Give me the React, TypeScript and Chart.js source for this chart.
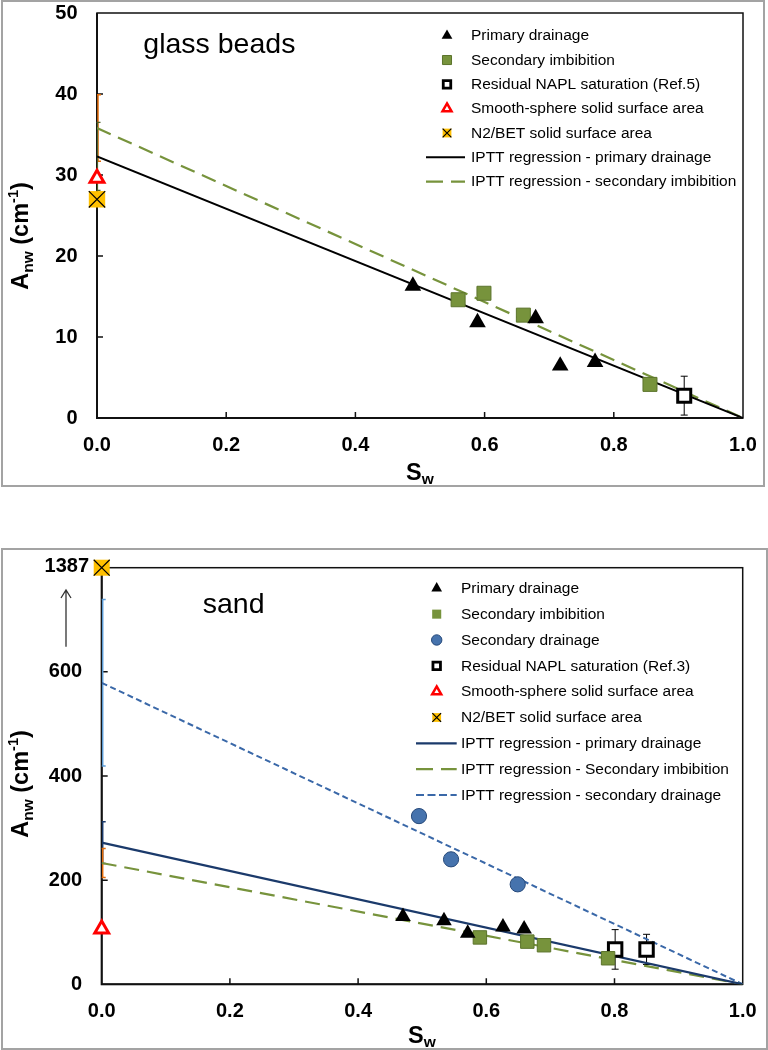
import React, { useEffect, useRef } from 'react';
import { Chart, registerables } from 'chart.js';
import { drawPoint } from 'chart.js/helpers';

Chart.register(...registerables);

const FONT = "'Liberation Sans', Arial, Helvetica, sans-serif";
Chart.defaults.font.family = FONT;

// ===================== Glass beads (top panel) =====================
const gbXTicks = [0, 0.2, 0.4, 0.6, 0.8, 1.0];
const gbYTicks = [0, 10, 20, 30, 40, 50];
const gbYMax = 50;
const gbPrimarySw = [0.489, 0.589, 0.679, 0.717, 0.771];
const gbPrimaryA = [16.3, 11.8, 12.3, 6.45, 6.9];
const gbSecImbSw = [0.559, 0.599, 0.66, 0.856];
const gbSecImbA = [14.6, 15.4, 12.7, 4.15];
const gbResidualSw = [0.909];
const gbResidualA = [2.76];
const gbResidualErr = [2.4];
const gbSmoothSw = [0];
const gbSmoothA = [29.6];
const gbBetSw = [0];
const gbBetA = [27.0];
const gbRegSw = [0, 1];
const gbRegPrimaryA = [32.3, 0];
const gbRegSecImbA = [35.8, 0];
const gbRegPrimaryErr = [4.2];
const gbRegSecImbErr = [4.1];

// ===================== Sand (bottom panel) =====================
const sdXTicks = [0, 0.2, 0.4, 0.6, 0.8, 1.0];
const sdYTicks = [0, 200, 400, 600, 800];
const sdYMax = 800;
const sdPrimarySw = [0.47, 0.534, 0.571, 0.626, 0.659];
const sdPrimaryA = [130, 122, 98, 110, 106];
const sdSecImbSw = [0.59, 0.664, 0.69, 0.79];
const sdSecImbA = [90, 82, 75, 50];
const sdSecDrnSw = [0.495, 0.545, 0.649];
const sdSecDrnA = [323, 240, 192];
const sdResidualSw = [0.801, 0.85];
const sdResidualA = [67, 67];
const sdResidualErr = [38, 29];
const sdSmoothSw = [0];
const sdSmoothA = [106];
const sdBetSw = [0];
const sdBetA = [1387];
const sdRegSw = [0, 1];
const sdRegPrimaryA = [272, 0];
const sdRegSecImbA = [233, 0];
const sdRegSecDrnA = [579, 0];
const sdRegPrimaryErr = [40];
const sdRegSecImbErr = [28];
const sdRegSecDrnErr = [160];

// ===================== styles =====================
type Marker = { style: string; r: number; fill: string; stroke: string; bw: number };
type LineSt = { color: string; width: number; dash: number[] };
type LegendEntry = { text: string; marker?: Marker; overlay?: Marker; line?: LineSt };
type ErrBar = { xs: number[]; ys: number[]; errs: number[]; color: string; width: number; capL: number; capR: number; dx: number };
type Run = { t: string; size: number; dy: number };

const GREEN = '#77933C';
const GREEN_EDGE = '#5C742C';
const BLUE = '#4673AD';
const BLUE_EDGE = '#26497A';
const NAVY = '#1B3A6B';
const ORANGE_BET = '#FFC000';

const mk = (style: string, r: number, fill: string, stroke: string, bw: number): Marker => ({ style, r, fill, stroke, bw });

function pts(xs: number[], ys: number[], cap = Infinity) {
  return xs.map((x, i) => ({ x, y: Math.min(ys[i], cap) }));
}

function markerDataset(label: string, xs: number[], ys: number[], m: Marker, order = 1, cap = Infinity) {
  return {
    type: 'scatter',
    label,
    data: pts(xs, ys, cap),
    showLine: false,
    pointStyle: m.style,
    pointRadius: m.r,
    pointHoverRadius: m.r,
    pointBackgroundColor: m.fill,
    pointBorderColor: m.stroke,
    pointBorderWidth: m.bw,
    pointHoverBorderWidth: m.bw,
    clip: false,
    order,
  };
}

function lineDataset(label: string, xs: number[], ys: number[], l: LineSt) {
  return {
    type: 'scatter',
    label,
    data: pts(xs, ys),
    showLine: true,
    pointRadius: 0,
    pointHoverRadius: 0,
    borderColor: l.color,
    borderWidth: l.width,
    borderDash: l.dash,
    backgroundColor: 'transparent',
    fill: false,
    order: 3,
  };
}

function drawMarker(ctx: CanvasRenderingContext2D, m: Marker, x: number, y: number) {
  ctx.save();
  ctx.setLineDash([]);
  ctx.fillStyle = m.fill;
  ctx.strokeStyle = m.stroke;
  ctx.lineWidth = m.bw;
  drawPoint(ctx, { pointStyle: m.style, radius: m.r, rotation: 0, borderWidth: m.bw } as any, x, y);
  ctx.restore();
}

function richWidth(ctx: CanvasRenderingContext2D, runs: Run[]) {
  let w = 0;
  for (const r of runs) {
    ctx.font = `bold ${r.size}px ${FONT}`;
    w += ctx.measureText(r.t).width;
  }
  return w;
}

function drawRich(ctx: CanvasRenderingContext2D, runs: Run[], x: number, y: number) {
  let cx = x;
  for (const r of runs) {
    ctx.font = `bold ${r.size}px ${FONT}`;
    ctx.fillText(r.t, cx, y + r.dy);
    cx += ctx.measureText(r.t).width;
  }
}

const Y_TITLE: Run[] = [
  { t: 'A', size: 23.5, dy: 0 },
  { t: 'nw', size: 15.5, dy: 5 },
  { t: ' (cm', size: 23.5, dy: 0 },
  { t: '-1', size: 14.5, dy: -10 },
  { t: ')', size: 23.5, dy: 0 },
];
const X_TITLE: Run[] = [
  { t: 'S', size: 23.5, dy: 0 },
  { t: 'w', size: 15.5, dy: 3.5 },
];

type PanelSpec = {
  H: number;
  area: { left: number; top: number; right: number; bottom: number };
  xTicks: number[];
  yTicks: number[];
  yMax: number;
  yTickLabel: (v: number) => string;
  datasets: any[];
  errorBars: ErrBar[];
  legend: { markerX: number; textX: number; lineX0: number; lineX1: number; y0: number; dy: number; entries: LegendEntry[] };
  label: { text: string; x: number; y: number; size: number };
  yTitle: { x: number; cy: number };
  xTitle: { x: number; y: number };
  extra?: (ctx: CanvasRenderingContext2D, chart: any) => void;
};

function decorPlugin(spec: PanelSpec) {
  return {
    id: 'decor',
    beforeDatasetsDraw(chart: any) {
      const ctx: CanvasRenderingContext2D = chart.ctx;
      const a = chart.chartArea;
      const sx = chart.scales.x;
      const sy = chart.scales.y;
      ctx.save();
      ctx.setLineDash([]);
      ctx.strokeStyle = '#111';
      ctx.lineWidth = 1.5;
      ctx.strokeRect(a.left, a.top, a.right - a.left, a.bottom - a.top);
      ctx.lineWidth = 2;
      ctx.beginPath();
      ctx.moveTo(a.left, a.top);
      ctx.lineTo(a.left, a.bottom);
      ctx.lineTo(a.right, a.bottom);
      ctx.stroke();
      ctx.lineWidth = 1.5;
      ctx.beginPath();
      for (const v of spec.xTicks) {
        if (v <= sx.min || v >= sx.max) continue;
        const p = sx.getPixelForValue(v);
        ctx.moveTo(p, a.bottom);
        ctx.lineTo(p, a.bottom - 6);
      }
      for (const v of spec.yTicks) {
        if (v <= sy.min || v >= sy.max) continue;
        const p = sy.getPixelForValue(v);
        ctx.moveTo(a.left, p);
        ctx.lineTo(a.left + 6, p);
      }
      ctx.stroke();
      for (const eb of spec.errorBars) {
        ctx.strokeStyle = eb.color;
        ctx.lineWidth = eb.width;
        ctx.beginPath();
        eb.xs.forEach((xv, i) => {
          const px = sx.getPixelForValue(xv) + eb.dx;
          const y1 = sy.getPixelForValue(eb.ys[i] + eb.errs[i]);
          const y2 = sy.getPixelForValue(eb.ys[i] - eb.errs[i]);
          ctx.moveTo(px, y1);
          ctx.lineTo(px, y2);
          ctx.moveTo(px - eb.capL, y1);
          ctx.lineTo(px + eb.capR, y1);
          ctx.moveTo(px - eb.capL, y2);
          ctx.lineTo(px + eb.capR, y2);
        });
        ctx.stroke();
      }
      ctx.restore();
    },
    afterDraw(chart: any) {
      const ctx: CanvasRenderingContext2D = chart.ctx;
      ctx.save();
      ctx.fillStyle = '#000';
      // legend
      const L = spec.legend;
      L.entries.forEach((e, i) => {
        const y = L.y0 + i * L.dy;
        if (e.marker) drawMarker(ctx, e.marker, L.markerX, y);
        if (e.overlay) drawMarker(ctx, e.overlay, L.markerX, y);
        if (e.line) {
          ctx.save();
          ctx.strokeStyle = e.line.color;
          ctx.lineWidth = e.line.width;
          ctx.setLineDash(e.line.dash.length ? [e.line.dash[0] + 2, e.line.dash[1]] : []);
          ctx.beginPath();
          ctx.moveTo(L.lineX0, y);
          ctx.lineTo(L.lineX1, y);
          ctx.stroke();
          ctx.restore();
        }
        ctx.fillStyle = '#000';
        ctx.font = `15.5px ${FONT}`;
        ctx.textAlign = 'left';
        ctx.textBaseline = 'middle';
        ctx.fillText(e.text, L.textX, y + 0.5);
      });
      // panel label
      ctx.textBaseline = 'alphabetic';
      ctx.textAlign = 'left';
      ctx.font = `${spec.label.size}px ${FONT}`;
      ctx.fillText(spec.label.text, spec.label.x, spec.label.y);
      // axis titles
      drawRich(ctx, X_TITLE, spec.xTitle.x, spec.xTitle.y);
      ctx.save();
      ctx.translate(spec.yTitle.x, spec.yTitle.cy);
      ctx.rotate(-Math.PI / 2);
      const w = richWidth(ctx, Y_TITLE);
      drawRich(ctx, Y_TITLE, -w / 2, 0);
      ctx.restore();
      if (spec.extra) spec.extra(ctx, chart);
      ctx.restore();
    },
  };
}

function buildConfig(spec: PanelSpec): any {
  const W = 768;
  const XH = 40;
  const tickFont = { family: FONT, size: 20, weight: 'bold' as const };
  const hiddenGrid = (len: number) => ({
    display: true,
    drawOnChartArea: false,
    drawTicks: true,
    tickLength: len,
    color: 'rgba(0,0,0,0)',
  });
  return {
    type: 'scatter',
    data: { datasets: spec.datasets },
    plugins: [decorPlugin(spec)],
    options: {
      animation: false,
      responsive: false,
      maintainAspectRatio: false,
      events: [],
      layout: {
        padding: {
          left: 0,
          top: spec.area.top,
          right: W - spec.area.right,
          bottom: spec.H - spec.area.bottom - XH,
        },
      },
      plugins: { legend: { display: false }, tooltip: { enabled: false }, title: { display: false } },
      scales: {
        x: {
          type: 'linear',
          min: 0,
          max: 1,
          afterBuildTicks: (s: any) => {
            s.ticks = spec.xTicks.map((v) => ({ value: v }));
          },
          afterFit: (s: any) => {
            s.height = XH;
          },
          grid: hiddenGrid(15),
          border: { display: false },
          ticks: {
            font: tickFont,
            color: '#000',
            padding: 0,
            autoSkip: false,
            maxRotation: 0,
            callback: (v: any) => Number(v).toFixed(1),
          },
        },
        y: {
          type: 'linear',
          min: 0,
          max: spec.yMax,
          afterBuildTicks: (s: any) => {
            s.ticks = spec.yTicks.map((v) => ({ value: v }));
          },
          afterFit: (s: any) => {
            s.width = spec.area.left;
          },
          grid: hiddenGrid(19.5),
          border: { display: false },
          ticks: {
            font: tickFont,
            color: '#000',
            padding: 0,
            autoSkip: false,
            callback: (v: any) => spec.yTickLabel(Number(v)),
          },
        },
      },
    },
  };
}

// ---------- glass beads spec ----------
const gbM = {
  pri: mk('triangle', 9.6, '#000', '#000', 0),
  sec: mk('rect', 9.9, GREEN, GREEN_EDGE, 1),
  res: mk('rect', 9.2, '#fff', '#000', 3),
  smooth: mk('triangle', 8, '#fff', '#FF0000', 3),
  bet: mk('rect', 11.6, ORANGE_BET, ORANGE_BET, 0),
  betX: mk('crossRot', 11.6, '#000', '#000', 1.2),
};
const legM = {
  pri: mk('triangle', 6.2, '#000', '#000', 0),
  sec: mk('rect', 6.4, GREEN, GREEN_EDGE, 1),
  drn: mk('circle', 5.2, BLUE, BLUE_EDGE, 1),
  res: mk('rect', 5.3, '#fff', '#000', 2.8),
  smooth: mk('triangle', 5.2, '#fff', '#FF0000', 2.5),
  bet: mk('rect', 6.2, ORANGE_BET, ORANGE_BET, 0),
  betX: mk('crossRot', 6.2, '#000', '#000', 1.2),
};
const gbLines = {
  pri: { color: '#000', width: 2, dash: [] as number[] },
  sec: { color: GREEN, width: 2.2, dash: [15, 8] },
};

const glassSpec: PanelSpec = {
  H: 488,
  area: { left: 97, top: 13, right: 743, bottom: 418 },
  xTicks: gbXTicks,
  yTicks: gbYTicks,
  yMax: gbYMax,
  yTickLabel: (v) => String(v),
  datasets: [
    markerDataset('Primary drainage', gbPrimarySw, gbPrimaryA, gbM.pri),
    markerDataset('Secondary imbibition', gbSecImbSw, gbSecImbA, gbM.sec),
    markerDataset('Residual NAPL saturation (Ref.5)', gbResidualSw, gbResidualA, gbM.res),
    markerDataset('Smooth-sphere solid surface area', gbSmoothSw, gbSmoothA, gbM.smooth),
    markerDataset('N2/BET solid surface area', gbBetSw, gbBetA, gbM.bet, 1),
    markerDataset('N2/BET solid surface area (x)', gbBetSw, gbBetA, gbM.betX, 0),
    lineDataset('IPTT regression - primary drainage', gbRegSw, gbRegPrimaryA, gbLines.pri),
    lineDataset('IPTT regression - secondary imbibition', gbRegSw, gbRegSecImbA, gbLines.sec),
  ],
  errorBars: [
    { xs: [0], ys: [gbRegSecImbA[0]], errs: gbRegSecImbErr, color: '#E46C0A', width: 1.5, capL: 1, capR: 3, dx: 1 },
    { xs: [0], ys: [gbRegPrimaryA[0]], errs: gbRegPrimaryErr, color: '#4F6228', width: 1.2, capL: 1, capR: 3, dx: 0.5 },
    { xs: gbResidualSw, ys: gbResidualA, errs: gbResidualErr, color: '#000', width: 1, capL: 3.5, capR: 3.5, dx: 0 },
  ],
  legend: {
    markerX: 447,
    textX: 471,
    lineX0: 426,
    lineX1: 465,
    y0: 35.7,
    dy: 24.33,
    entries: [
      { text: 'Primary drainage', marker: legM.pri },
      { text: 'Secondary imbibition', marker: legM.sec },
      { text: 'Residual NAPL saturation (Ref.5)', marker: legM.res },
      { text: 'Smooth-sphere solid surface area', marker: legM.smooth },
      { text: 'N2/BET solid surface area', marker: legM.bet, overlay: legM.betX },
      { text: 'IPTT regression - primary drainage', line: gbLines.pri },
      { text: 'IPTT regression - secondary imbibition', line: gbLines.sec },
    ],
  },
  label: { text: 'glass beads', x: 143.3, y: 53.3, size: 28.5 },
  yTitle: { x: 28.3, cy: 236 },
  xTitle: { x: 406, y: 480 },
};

// ---------- sand spec ----------
const sdM = {
  pri: mk('triangle', 9, '#000', '#000', 0),
  sec: mk('rect', 9.5, GREEN, GREEN_EDGE, 1),
  drn: mk('circle', 7.6, BLUE, BLUE_EDGE, 1),
  res: mk('rect', 9.5, '#fff', '#000', 3),
  smooth: mk('triangle', 8, '#fff', '#FF0000', 3),
  bet: mk('rect', 11.3, ORANGE_BET, ORANGE_BET, 0),
  betX: mk('crossRot', 11.3, '#000', '#000', 1.2),
};
const sdLines = {
  pri: { color: NAVY, width: 2.2, dash: [] as number[] },
  sec: { color: GREEN, width: 2.2, dash: [15, 8] },
  drn: { color: '#3A68A8', width: 2, dash: [6, 3.5] },
};

const SAND_TOP = 540;

const sandSpec: PanelSpec = {
  H: 510,
  area: { left: 101.7, top: 567.7 - SAND_TOP, right: 742.7, bottom: 984.3 - SAND_TOP },
  xTicks: sdXTicks,
  yTicks: sdYTicks,
  yMax: sdYMax,
  yTickLabel: (v) => (v >= sdYMax ? '' : String(v)),
  datasets: [
    markerDataset('Primary drainage', sdPrimarySw, sdPrimaryA, sdM.pri),
    markerDataset('Secondary imbibition', sdSecImbSw, sdSecImbA, sdM.sec),
    markerDataset('Secondary drainage', sdSecDrnSw, sdSecDrnA, sdM.drn),
    markerDataset('Residual NAPL saturation (Ref.3)', sdResidualSw, sdResidualA, sdM.res),
    markerDataset('Smooth-sphere solid surface area', sdSmoothSw, sdSmoothA, sdM.smooth),
    markerDataset('N2/BET solid surface area', sdBetSw, sdBetA, sdM.bet, 1, sdYMax),
    markerDataset('N2/BET solid surface area (x)', sdBetSw, sdBetA, sdM.betX, 0, sdYMax),
    lineDataset('IPTT regression - primary drainage', sdRegSw, sdRegPrimaryA, sdLines.pri),
    lineDataset('IPTT regression - Secondary imbibition', sdRegSw, sdRegSecImbA, sdLines.sec),
    lineDataset('IPTT regression - secondary drainage', sdRegSw, sdRegSecDrnA, sdLines.drn),
  ],
  errorBars: [
    { xs: [0], ys: [sdRegSecDrnA[0]], errs: sdRegSecDrnErr, color: '#5B9BD5', width: 1.5, capL: 1, capR: 3, dx: 1 },
    { xs: [0], ys: [sdRegPrimaryA[0]], errs: sdRegPrimaryErr, color: NAVY, width: 1.5, capL: 1, capR: 3, dx: 1 },
    { xs: [0], ys: [sdRegSecImbA[0]], errs: sdRegSecImbErr, color: '#E46C0A', width: 1.5, capL: 1, capR: 3, dx: 1 },
    { xs: sdResidualSw, ys: sdResidualA, errs: sdResidualErr, color: '#000', width: 1, capL: 3.5, capR: 3.5, dx: 0 },
  ],
  legend: {
    markerX: 436.7,
    textX: 461,
    lineX0: 416,
    lineX1: 456.7,
    y0: 588.3 - SAND_TOP,
    dy: 25.84,
    entries: [
      { text: 'Primary drainage', marker: legM.pri },
      { text: 'Secondary imbibition', marker: mk('rect', 6.4, GREEN, GREEN, 0) },
      { text: 'Secondary drainage', marker: legM.drn },
      { text: 'Residual NAPL saturation (Ref.3)', marker: legM.res },
      { text: 'Smooth-sphere solid surface area', marker: legM.smooth },
      { text: 'N2/BET solid surface area', marker: legM.bet, overlay: legM.betX },
      { text: 'IPTT regression - primary drainage', line: sdLines.pri },
      { text: 'IPTT regression - Secondary imbibition', line: sdLines.sec },
      { text: 'IPTT regression - secondary drainage', line: sdLines.drn },
    ],
  },
  label: { text: 'sand', x: 202.7, y: 612.7 - SAND_TOP, size: 28.5 },
  yTitle: { x: 28.3, cy: 784 - SAND_TOP },
  xTitle: { x: 408, y: 1043.3 - SAND_TOP },
  extra: (ctx, chart) => {
    const sy = chart.scales.y;
    const yTop = sy.getPixelForValue(sdYMax);
    ctx.save();
    ctx.fillStyle = '#000';
    ctx.font = `bold 20px ${FONT}`;
    ctx.textAlign = 'right';
    ctx.textBaseline = 'middle';
    ctx.fillText(String(sdBetA[0]), 89, yTop - 1.5);
    // broken-axis arrow
    const ax = 66;
    const y0 = 646.7 - SAND_TOP;
    const y1 = 590 - SAND_TOP;
    ctx.strokeStyle = '#333';
    ctx.lineWidth = 1.3;
    ctx.beginPath();
    ctx.moveTo(ax, y0);
    ctx.lineTo(ax, y1);
    ctx.moveTo(ax - 5, y1 + 8);
    ctx.lineTo(ax, y1);
    ctx.lineTo(ax + 5, y1 + 8);
    ctx.stroke();
    ctx.restore();
  },
};

function Panel({ spec, top }: { spec: PanelSpec; top: number }) {
  const ref = useRef<HTMLCanvasElement>(null);
  useEffect(() => {
    if (!ref.current) return;
    const chart = new Chart(ref.current, buildConfig(spec));
    return () => chart.destroy();
  }, [spec]);
  return (
    <canvas
      ref={ref}
      width={768}
      height={spec.H}
      style={{ position: 'absolute', left: 0, top, width: 768, height: spec.H, display: 'block' }}
    />
  );
}

export default function App() {
  const frame = { position: 'absolute' as const, border: '2px solid #a3a3a3', boxSizing: 'border-box' as const };
  return (
    <div style={{ position: 'absolute', left: 0, top: 0, width: 768, height: 1050, background: '#fff', overflow: 'hidden' }}>
      <div style={{ ...frame, left: 1, top: 0, width: 764, height: 487 }} />
      <div style={{ ...frame, left: 1, top: 548, width: 767, height: 502 }} />
      <Panel spec={glassSpec} top={0} />
      <Panel spec={sandSpec} top={SAND_TOP} />
    </div>
  );
}
